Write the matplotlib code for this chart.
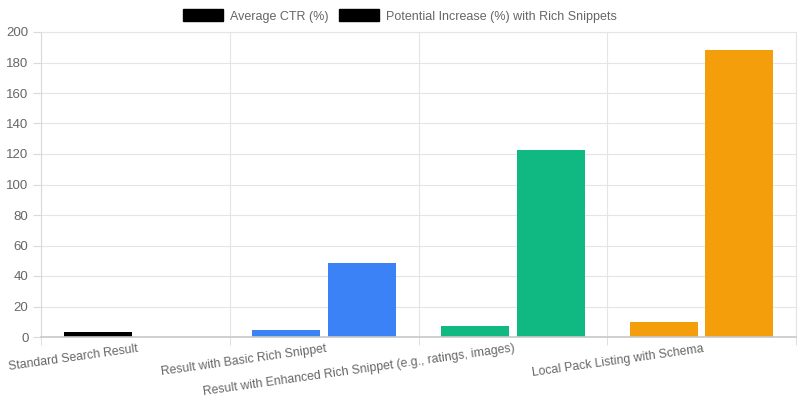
import matplotlib.pyplot as plt
import numpy as np
from matplotlib.patches import Patch

plt.rcParams['font.family'] = ['Liberation Sans', 'DejaVu Sans']

categories = ['Standard Search Result', 'Result with Basic Rich Snippet',
              'Result with Enhanced Rich Snippet (e.g., ratings, images)',
              'Local Pack Listing with Schema']
avg_ctr = [3.2, 4.8, 7.4, 9.8]
potential_increase = [0, 48.5, 122.5, 188.3]
bar_colors = ['#000000', '#3b82f6', '#10b981', '#f59e0b']
legend_labels = ['Average CTR (%)', 'Potential Increase (%) with Rich Snippets']

fig = plt.figure(figsize=(8, 4), dpi=100)
ax = fig.add_axes([0.05125, 0.1575, 0.94375, 0.7625])

x = np.arange(len(categories))
ax.bar(x - 0.2, avg_ctr, width=0.36, color=bar_colors)
ax.bar(x + 0.2, potential_increase, width=0.36, color=bar_colors)

ax.set_xlim(-0.5, len(categories) - 0.5)
ax.set_ylim(0, 200)
ax.set_yticks(range(0, 201, 20))

# grid lines between categories, like the offset grid
ax.set_xticks(np.arange(len(categories) + 1) - 0.5, minor=True)
ax.set_xticks(x)
ax.set_xticklabels([])
ax.grid(axis='y', color='#e5e5e5', linewidth=0.8)
ax.grid(axis='x', which='minor', color='#e5e5e5', linewidth=0.8)
ax.set_axisbelow(True)
ax.tick_params(axis='x', which='major', length=0)
ax.tick_params(axis='x', which='minor', length=6, color='#d9d9d9')
ax.tick_params(axis='y', length=6, color='#d9d9d9', labelsize=9.5, labelcolor='#666666', pad=3)

for i, lab in enumerate(categories):
    ax.annotate(lab, xy=(i, 0), xycoords=('data', 'axes fraction'),
                xytext=(1, -4), textcoords='offset points',
                ha='right', va='top', rotation=8, rotation_mode='anchor',
                fontsize=8.8, color='#666666')

for side in ['top', 'right']:
    ax.spines[side].set_color('#e5e5e5')
ax.spines['left'].set_color('#d9d9d9')
ax.spines['bottom'].set_color('#c8c8c8')
ax.spines['bottom'].set_linewidth(1.2)

handles = [Patch(facecolor='black', edgecolor='black') for _ in legend_labels]
fig.legend(handles, legend_labels, loc='center', bbox_to_anchor=(0.5, 0.96),
           ncol=2, frameon=False, fontsize=9, labelcolor='#666666',
           handlelength=3.2, handleheight=1.05, handletextpad=0.55, columnspacing=0.8)

fig.savefig('out.png', dpi=100)
